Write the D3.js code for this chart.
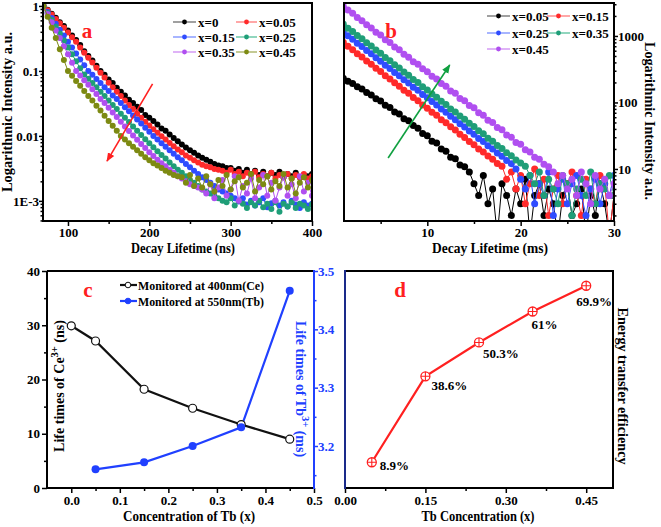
<!DOCTYPE html>
<html>
<head>
<meta charset="utf-8">
<script src="https://cdn.jsdelivr.net/npm/d3@7"></script>
<style>body{margin:0;background:#fff}svg{display:block}</style>
</head>
<body>
<svg id="chart" width="661" height="527"></svg>
<script>
// ---------- data ----------
// panel a: Ce3+ decay (ns), sampled every 5 ns from 70 to 400
const tA = d3.range(70, 401, 5)
const decayA0 = [1,0.87,0.76,0.66,0.56,0.49,0.42,0.35,0.30,0.25,0.20,0.17,0.145,0.12,0.10,0.087,0.074,0.065,0.055,0.048,0.042,0.036,0.032,0.028,0.025,0.021,0.019,0.017,0.015,0.013,0.012,0.0105,0.0093,0.0083,0.0074,0.0066,0.006,0.0055,0.005,0.0046,0.0043,0.004,0.0037,0.0035,0.0034,0.0032,0.0032,0.0029,0.0031,0.0027,0.003,0.0026,0.0029,0.0025,0.0028,0.0024,0.0027,0.0025,0.0028,0.0023,0.0026,0.0024,0.0027,0.0023,0.0025,0.0024,0.0026]
const decayA005 = [1,0.86,0.74,0.63,0.54,0.46,0.39,0.33,0.28,0.23,0.19,0.16,0.135,0.112,0.094,0.079,0.066,0.056,0.048,0.041,0.035,0.03,0.026,0.022,0.019,0.0165,0.0145,0.0127,0.0112,0.0099,0.0088,0.0078,0.0069,0.0062,0.0056,0.005,0.0046,0.0042,0.0039,0.0036,0.0034,0.0033,0.0031,0.003,0.0029,0.0027,0.003,0.0026,0.0028,0.0024,0.0027,0.0025,0.0028,0.0023,0.0026,0.0024,0.0027,0.0022,0.0025,0.0023,0.0026,0.0022,0.0025,0.0023,0.0026,0.0022,0.0024]
const decayA015 = [1,0.81,0.65,0.53,0.43,0.35,0.28,0.23,0.185,0.15,0.122,0.1,0.087,0.075,0.065,0.056,0.049,0.042,0.037,0.032,0.0275,0.024,0.0206,0.0178,0.0155,0.0134,0.0116,0.01,0.0088,0.0077,0.0068,0.006,0.0053,0.0047,0.0042,0.0037,0.0033,0.0029,0.0026,0.0023,0.0021,0.0019,0.0017,0.0015,0.0014,0.0013,0.0012,0.0011,0.00098,0.0011,0.00088,0.001,0.00085,0.00095,0.0011,0.0008,0.00092,0.001,0.00085,0.00095,0.00082,0.001,0.00088,0.00078,0.00095,0.00085,0.0009]
const decayA025 = [1,0.78,0.61,0.48,0.375,0.295,0.23,0.18,0.141,0.11,0.088,0.076,0.065,0.056,0.048,0.041,0.035,0.03,0.026,0.022,0.019,0.0163,0.014,0.012,0.0103,0.0089,0.0077,0.0067,0.0058,0.0051,0.0045,0.0039,0.0034,0.003,0.0027,0.0024,0.0021,0.0019,0.0017,0.0015,0.0014,0.0013,0.0012,0.0011,0.001,0.00095,0.0011,0.00085,0.001,0.0009,0.00078,0.00095,0.00085,0.001,0.0008,0.0009,0.00075,0.00095,0.00068,0.0009,0.00082,0.00095,0.00078,0.0009,0.00085,0.00075,0.00088]
const decayA035 = [1,0.75,0.56,0.42,0.32,0.24,0.18,0.133,0.1,0.085,0.072,0.061,0.052,0.044,0.037,0.032,0.027,0.023,0.0195,0.0165,0.014,0.0119,0.0101,0.0087,0.0075,0.0065,0.0056,0.0049,0.0043,0.0038,0.0034,0.003,0.0027,0.0024,0.0022,0.002,0.0018,0.0017,0.0016,0.0015,0.0013,0.0018,0.0011,0.0016,0.0021,0.0012,0.0015,0.0024,0.001,0.0017,0.0013,0.0022,0.0011,0.0016,0.0025,0.0012,0.0019,0.001,0.0016,0.0023,0.0012,0.0018,0.0011,0.0024,0.0014,0.0019,0.0012]
const decayA045 = [1,0.68,0.46,0.32,0.215,0.147,0.1,0.084,0.07,0.059,0.049,0.041,0.035,0.029,0.0245,0.0205,0.017,0.0143,0.012,0.01,0.0088,0.0077,0.0068,0.006,0.0053,0.0047,0.0042,0.0038,0.0035,0.0032,0.0029,0.0027,0.0025,0.0024,0.0023,0.0019,0.0025,0.0017,0.0022,0.0016,0.0024,0.0018,0.0014,0.0021,0.0017,0.0025,0.0015,0.002,0.0023,0.0016,0.0019,0.0026,0.0014,0.0021,0.0018,0.0024,0.0015,0.002,0.0017,0.0026,0.0016,0.0022,0.0013,0.0019,0.0023,0.0016,0.0021]
const namesA = ["x=0", "x=0.05", "x=0.15", "x=0.25", "x=0.35", "x=0.45"]

// panel b: Tb3+ decay (ms), sampled every 0.5 ms from 1 to 30
const tB = d3.range(1, 30.01, 0.5)
const decayB005 = [230,208,193,172,159,141,130,114,105,91,84,72,67,57,53,45,41,34,31.5,26,24.5,20,18.5,15,14.2,11.5,10.8,9,6,4,8,3,5,1,6,4,2,5,3,7,1,4,6,2,5,3,1,4,6,2,3,5,1,4,2,6,3,1,4]
const decayB015 = [800,700,622,542,483,421,375,327,291,253,226,197,176,152,137,119,106,91.5,82,71,64,55,49.5,43,38.5,33.3,29.8,25.9,23.1,20,18,15.6,14,12.1,11,7,9,5,8,3,6,10,4,7,2,5,8,3,6,9,4,2,7,5,3,8,6,1,4]
const decayB025 = [1150,1005,895,780,695,605,540,470,418,364,325,282,252,220,196,170,152,132,118,103,91.5,79.5,71,62,55,48,42.8,37.2,33.2,28.8,25.8,22.4,20,17.4,15.5,13.4,12,10,7,5,8,3,6,4,9,2,5,7,3,6,8,4,2,5,7,3,6,4,8]
const decayB035 = [1500,1310,1170,1020,910,790,705,615,548,476,425,370,330,287,256,222,199,172,154,134,120,104,93,80,72,62.5,56,48.5,43.5,37.5,33.8,29,26.2,22.5,20.3,17.5,15.8,13.6,12.3,11,8,6,9,4,7,5,3,8,6,2,5,7,4,9,3,6,5,8,4]
const decayB045 = [2800,2450,2190,1900,1700,1470,1320,1140,1030,880,800,680,620,530,480,410,375,320,290,248,226,192,176,149,137,115,106,90,83,70,64,54,50,42,39,32.5,30,25,23.5,19.5,18,15,14,11.8,10.8,9,6,8,5,7,4,9,6,3,8,5,7,4,6]
const namesB = ["x=0.05", "x=0.15", "x=0.25", "x=0.35", "x=0.45"]

// panel c: life times vs Tb concentration
const concCe = [0, 0.05, 0.15, 0.25, 0.35, 0.45]
const lifeCe = [29.9, 27.1, 18.2, 14.7, 11.7, 9.0]
const concTb = [0.05, 0.15, 0.25, 0.35, 0.45]
const lifeTb = [3.16, 3.172, 3.2, 3.232, 3.466]

// panel d: energy transfer efficiency
const effConc = [0.05, 0.15, 0.25, 0.35, 0.45]
const effValues = [8.9, 38.6, 50.3, 61, 69.9]
const effLabels = ["8.9%", "38.6%", "50.3%", "61%", "69.9%"]

// arrows (data coordinates)
const arrowA = [[204, 0.063], [148, 0.0041]]
const arrowB = [[5.8, 14.6], [12.4, 366]]

// ---------- styles ----------
const FONT = "'Liberation Serif','Times New Roman',serif"
const colorsA = ["#000000", "#ff2a2a", "#2f4cff", "#1f9e78", "#b04ff0", "#7d8a12"]
const lightA = ["#808080", "#ff8a8a", "#8a9cff", "#6cc8a8", "#d49af5", "#b0b870"]
const colorsB = colorsA.slice(0, 5)
const lightB = lightA.slice(0, 5)
const BLUE = "#2040ff"

const svg = d3.select("#chart")
svg.append("rect").attr("width", 661).attr("height", 527).attr("fill", "#fff")
const defs = svg.append("defs")

function arrowHead(id, color) {
    defs.append("marker").attr("id", id)
        .attr("viewBox", "0 0 10 10").attr("refX", 9).attr("refY", 5)
        .attr("markerUnits", "userSpaceOnUse")
        .attr("markerWidth", 9).attr("markerHeight", 9)
        .attr("orient", "auto")
        .append("path").attr("d", "M0,1 L10,5 L0,9 z").attr("fill", color)
}
arrowHead("headRed", "#ff2020")
arrowHead("headGreen", "#10a040")

function clip(id, x0, y0, x1, y1) {
    defs.append("clipPath").attr("id", id)
        .append("rect").attr("x", x0).attr("y", y0).attr("width", x1 - x0).attr("height", y1 - y0)
}

function styleAxis(g, color) {
    g.select(".domain").remove()
    g.attr("font-family", FONT).attr("font-size", 13).attr("font-weight", "bold")
    g.selectAll("line").attr("stroke", color || "#000").attr("stroke-width", 1.5)
    g.selectAll("text").attr("fill", color || "#000")
}

function label(x, y, txt, opts) {
    opts = opts || {}
    const t = svg.append("text")
        .attr("transform", `translate(${x},${y}) rotate(${opts.rotate || 0})`)
        .attr("text-anchor", opts.anchor || "middle")
        .attr("font-family", FONT).attr("font-weight", "bold")
        .attr("font-size", opts.size || 14)
        .attr("fill", opts.color || "#000")
        .text(txt)
    if (opts.len) t.attr("textLength", opts.len).attr("lengthAdjust", "spacingAndGlyphs")
    return t
}

const isPow10 = d => Math.abs(Math.log10(d) - Math.round(Math.log10(d))) < 1e-6

// ---------- panel a ----------
const A = {l: 43, r: 312, t: 3, b: 221}
const xA = d3.scaleLinear().domain([69.3, 400]).range([A.l, A.r])
const yA = d3.scaleLog().domain([4.9e-4, 1.11]).range([A.b, A.t])
clip("clipA", A.l, A.t, A.r, A.b)

const seriesA = [decayA0, decayA005, decayA015, decayA025, decayA035, decayA045]
const gA = svg.append("g").attr("clip-path", "url(#clipA)")
const lineA = d3.line().x(d => xA(d[0])).y(d => yA(d[1]))
seriesA.forEach((vals, i) => {
    const pts = tA.map((t, j) => [t, vals[j]])
    gA.append("path").attr("d", lineA(pts)).attr("fill", "none")
        .attr("stroke", colorsA[i]).attr("stroke-width", 1)
    gA.append("g").selectAll("circle").data(pts).join("circle")
        .attr("cx", d => xA(d[0])).attr("cy", d => yA(d[1])).attr("r", 3)
        .attr("fill", colorsA[i])
})

svg.append("g").attr("transform", `translate(0,${A.b})`)
    .call(d3.axisBottom(xA).tickValues([100, 200, 300, 400]).tickSize(5).tickSizeOuter(0).tickPadding(2))
    .call(g => styleAxis(g))
svg.append("g").attr("transform", `translate(0,${A.b})`)
    .call(d3.axisBottom(xA).tickValues([150, 250, 350]).tickSize(3).tickFormat(""))
    .call(g => styleAxis(g))
svg.append("g").attr("transform", `translate(${A.l},0)`)
    .call(d3.axisLeft(yA).tickValues([1, 0.1, 0.01, 0.001]).tickSize(4).tickPadding(0)
        .tickFormat(d => d === 0.001 ? "1E-3" : String(d)))
    .call(g => styleAxis(g))
svg.append("g").attr("transform", `translate(${A.l},0)`)
    .call(d3.axisLeft(yA).tickValues(yA.ticks().filter(d => !isPow10(d))).tickSize(2.5).tickFormat(""))
    .call(g => styleAxis(g))
svg.append("rect").attr("x", A.l).attr("y", A.t).attr("width", A.r - A.l).attr("height", A.b - A.t)
    .attr("fill", "none").attr("stroke", "#000").attr("stroke-width", 2)

svg.append("line")
    .attr("x1", xA(arrowA[0][0])).attr("y1", yA(arrowA[0][1]))
    .attr("x2", xA(arrowA[1][0])).attr("y2", yA(arrowA[1][1]))
    .attr("stroke", "#ff2020").attr("stroke-width", 1.6).attr("marker-end", "url(#headRed)")

// legend a
namesA.forEach((n, i) => {
    const col = i % 2, row = Math.floor(i / 2)
    const x0 = [173, 236][col], x1 = [196, 257][col], y = [22, 37, 52][row]
    svg.append("line").attr("x1", x0).attr("x2", x1).attr("y1", y).attr("y2", y)
        .attr("stroke", lightA[i]).attr("stroke-width", 1.5)
    svg.append("circle").attr("cx", (x0 + x1) / 2).attr("cy", y).attr("r", 2.4).attr("fill", colorsA[i])
    label(x1 + 2, y + 4.5, n, {anchor: "start", size: 13})
})

label(87, 38, "a", {size: 21, color: "#ff2020"})
label(183, 253, "Decay Lifetime (ns)", {size: 14, len: 104})
label(12, 112, "Logarithmic Intensity a.u.", {rotate: -90, size: 14, len: 160})

// ---------- panel b ----------
const B = {l: 344, r: 614, t: 3, b: 221}
const xB = d3.scaleLinear().domain([1.075, 30]).range([B.l, B.r])
const yB = d3.scaleLog().domain([1.65, 3130]).range([B.b, B.t])
clip("clipB", B.l, B.t, B.r, B.b)

const seriesB = [decayB005, decayB015, decayB025, decayB035, decayB045]
const gB = svg.append("g").attr("clip-path", "url(#clipB)")
const lineB = d3.line().x(d => xB(d[0])).y(d => yB(d[1]))
seriesB.forEach((vals, i) => {
    const pts = tB.map((t, j) => [t, vals[j]])
    gB.append("path").attr("d", lineB(pts)).attr("fill", "none")
        .attr("stroke", colorsB[i]).attr("stroke-width", 1)
    gB.append("g").selectAll("circle").data(pts).join("circle")
        .attr("cx", d => xB(d[0])).attr("cy", d => yB(d[1])).attr("r", 3.5)
        .attr("fill", colorsB[i])
})

svg.append("g").attr("transform", `translate(0,${B.b})`)
    .call(d3.axisBottom(xB).tickValues([10, 20, 30]).tickSize(5).tickSizeOuter(0).tickPadding(2))
    .call(g => styleAxis(g))
svg.append("g").attr("transform", `translate(0,${B.b})`)
    .call(d3.axisBottom(xB).tickValues([5, 15, 25]).tickSize(3).tickFormat(""))
    .call(g => styleAxis(g))
svg.append("g").attr("transform", `translate(${B.r},0)`)
    .call(d3.axisRight(yB).tickValues([10, 100, 1000]).tickSize(4).tickPadding(0).tickFormat(d3.format("d")))
    .call(g => styleAxis(g))
svg.append("g").attr("transform", `translate(${B.r},0)`)
    .call(d3.axisRight(yB).tickValues(yB.ticks().filter(d => !isPow10(d))).tickSize(2.5).tickFormat(""))
    .call(g => styleAxis(g))
svg.append("rect").attr("x", B.l).attr("y", B.t).attr("width", B.r - B.l).attr("height", B.b - B.t)
    .attr("fill", "none").attr("stroke", "#000").attr("stroke-width", 2)

svg.append("line")
    .attr("x1", xB(arrowB[0][0])).attr("y1", yB(arrowB[0][1]))
    .attr("x2", xB(arrowB[1][0])).attr("y2", yB(arrowB[1][1]))
    .attr("stroke", "#10a040").attr("stroke-width", 1.6).attr("marker-end", "url(#headGreen)")

namesB.forEach((n, i) => {
    const col = i % 2, row = Math.floor(i / 2)
    const x0 = [487, 547][col], x1 = [510, 570][col], y = [16, 33, 49][row]
    svg.append("line").attr("x1", x0).attr("x2", x1).attr("y1", y).attr("y2", y)
        .attr("stroke", lightB[i]).attr("stroke-width", 1.5)
    svg.append("circle").attr("cx", (x0 + x1) / 2).attr("cy", y).attr("r", 2.4).attr("fill", colorsB[i])
    label(x1 + 2, y + 4.5, n, {anchor: "start", size: 13})
})

label(391, 38, "b", {size: 21, color: "#ff2020"})
label(490, 253, "Decay Lifetime (ms)", {size: 14, len: 116})
label(645, 121, "Logarithmic Intensity a.u.", {rotate: 90, size: 14, len: 158})

// ---------- panel c ----------
const C = {l: 47, r: 314, t: 271, b: 488}
const xC = d3.scaleLinear().domain([-0.05, 0.5]).range([C.l, C.r])
const yC = d3.scaleLinear().domain([0, 40]).range([C.b, C.t])
const yC2 = d3.scaleLinear().domain([3.128, 3.5]).range([C.b, C.t])

svg.append("g").attr("transform", `translate(0,${C.b})`)
    .call(d3.axisBottom(xC).tickValues([0, 0.1, 0.2, 0.3, 0.4, 0.5]).tickSize(5).tickSizeOuter(0)
        .tickPadding(3).tickFormat(d3.format(".1f")))
    .call(g => styleAxis(g))
svg.append("g").attr("transform", `translate(0,${C.b})`)
    .call(d3.axisBottom(xC).tickValues([0.05, 0.15, 0.25, 0.35, 0.45]).tickSize(3).tickFormat(""))
    .call(g => styleAxis(g))
svg.append("g").attr("transform", `translate(${C.l},0)`)
    .call(d3.axisLeft(yC).tickValues([0, 10, 20, 30, 40]).tickSize(5).tickPadding(2))
    .call(g => styleAxis(g))
svg.append("g").attr("transform", `translate(${C.l},0)`)
    .call(d3.axisLeft(yC).tickValues([5, 15, 25, 35]).tickSize(3).tickFormat(""))
    .call(g => styleAxis(g))
svg.append("g").attr("transform", `translate(${C.r},0)`)
    .call(d3.axisRight(yC2).tickValues([3.2, 3.3, 3.4, 3.5]).tickSize(4).tickPadding(0).tickFormat(d3.format(".1f")))
    .call(g => styleAxis(g, BLUE))
svg.append("g").attr("transform", `translate(${C.r},0)`)
    .call(d3.axisRight(yC2).tickValues([3.15, 3.25, 3.35, 3.45]).tickSize(2.5).tickFormat(""))
    .call(g => styleAxis(g, BLUE))

const ptsCe = concCe.map((c, i) => [c, lifeCe[i]])
const ptsTb = concTb.map((c, i) => [c, lifeTb[i]])
svg.append("path").attr("d", d3.line().x(d => xC(d[0])).y(d => yC(d[1]))(ptsCe))
    .attr("fill", "none").attr("stroke", "#111").attr("stroke-width", 2.2)
svg.append("path").attr("d", d3.line().x(d => xC(d[0])).y(d => yC2(d[1]))(ptsTb))
    .attr("fill", "none").attr("stroke", BLUE).attr("stroke-width", 2.2)
svg.append("g").selectAll("circle").data(ptsCe).join("circle")
    .attr("cx", d => xC(d[0])).attr("cy", d => yC(d[1])).attr("r", 4)
    .attr("fill", "#fff").attr("stroke", "#111").attr("stroke-width", 1.2)
svg.append("g").selectAll("circle").data(ptsTb).join("circle")
    .attr("cx", d => xC(d[0])).attr("cy", d => yC2(d[1])).attr("r", 4)
    .attr("fill", BLUE)

svg.append("path").attr("d", `M${C.l},${C.t}V${C.b}H${C.r}M${C.l},${C.t}H${C.r}`)
    .attr("fill", "none").attr("stroke", "#000").attr("stroke-width", 2)
svg.append("line").attr("x1", C.r).attr("x2", C.r).attr("y1", C.t - 1).attr("y2", C.b + 1)
    .attr("stroke", BLUE).attr("stroke-width", 2)

// legend c
const legC = [["Monitored at 400nm(Ce)", "#111", "#fff"], ["Monitored at 550nm(Tb)", BLUE, BLUE]]
legC.forEach((l, i) => {
    const y = 285 + i * 16
    svg.append("line").attr("x1", 120).attr("x2", 137).attr("y1", y).attr("y2", y)
        .attr("stroke", l[1]).attr("stroke-width", 2.2)
    svg.append("circle").attr("cx", 128).attr("cy", y).attr("r", 2.8)
        .attr("fill", l[2]).attr("stroke", l[1]).attr("stroke-width", 1)
    label(138, y + 4.5, l[0], {anchor: "start", size: 13.5, len: 126})
})

label(88, 297, "c", {size: 21, color: "#ff2020"})
label(189, 521, "Concentration of Tb (x)", {size: 14, len: 132})

const ceTitle = svg.append("text").attr("transform", "translate(64,386) rotate(-90)")
    .attr("text-anchor", "middle").attr("font-family", FONT).attr("font-weight", "bold").attr("font-size", 14)
ceTitle.append("tspan").text("Life times of Ce")
ceTitle.append("tspan").attr("dy", -6).attr("font-size", 10.5).text("3+")
ceTitle.append("tspan").attr("dy", 6).text(" (ns)")

const tbTitle = svg.append("text").attr("transform", "translate(296,389) rotate(90)")
    .attr("text-anchor", "middle").attr("font-family", FONT).attr("font-weight", "bold").attr("font-size", 14)
    .attr("fill", BLUE)
tbTitle.append("tspan").text("Life times of Tb")
tbTitle.append("tspan").attr("dy", -6).attr("font-size", 10.5).text("3+")
tbTitle.append("tspan").attr("dy", 6).text(" (ms)")

// ---------- panel d ----------
const D = {l: 345, r: 613, t: 271, b: 488}
const xD = d3.scaleLinear().domain([0, 0.5]).range([D.l, D.r])
const yD = d3.scaleLinear().domain([0, 75]).range([D.b, D.t])

svg.append("g").attr("transform", `translate(0,${D.b})`)
    .call(d3.axisBottom(xD).tickValues([0, 0.15, 0.3, 0.45]).tickSize(5).tickSizeOuter(0)
        .tickPadding(3).tickFormat(d3.format(".2f")))
    .call(g => styleAxis(g))
svg.append("g").attr("transform", `translate(0,${D.b})`)
    .call(d3.axisBottom(xD).tickValues([0.075, 0.225, 0.375]).tickSize(3).tickFormat(""))
    .call(g => styleAxis(g))

const ptsEff = effConc.map((c, i) => [c, effValues[i]])
svg.append("path").attr("d", d3.line().x(d => xD(d[0])).y(d => yD(d[1]))(ptsEff))
    .attr("fill", "none").attr("stroke", "#ff2020").attr("stroke-width", 2.2)
const mk = svg.append("g").selectAll("g").data(ptsEff).join("g")
    .attr("transform", d => `translate(${xD(d[0])},${yD(d[1])})`)
mk.append("circle").attr("r", 4.5).attr("fill", "#fff").attr("stroke", "#ff2020").attr("stroke-width", 1.3)
mk.append("path").attr("d", "M-4.5,0H4.5M0,-4.5V4.5").attr("stroke", "#ff2020").attr("stroke-width", 1.1)

const effOffsets = [[8, 8], [6, 14], [4, 16], [-1, 17], [-10, 20]]
ptsEff.forEach((d, i) => {
    label(xD(d[0]) + effOffsets[i][0], yD(d[1]) + effOffsets[i][1], effLabels[i], {anchor: "start", size: 13})
})

svg.append("path").attr("d", `M${D.l},${D.t}H${D.r}V${D.b}H${D.l}`)
    .attr("fill", "none").attr("stroke", "#000").attr("stroke-width", 2)
svg.append("line").attr("x1", D.l).attr("x2", D.l).attr("y1", D.t - 1).attr("y2", D.b + 1)
    .attr("stroke", "#1a2a8a").attr("stroke-width", 2)

label(400, 297, "d", {size: 21, color: "#ff2020"})
label(478, 521, "Tb Concentration (x)", {size: 14, len: 113})
label(618, 386, "Energy transfer efficiency", {rotate: 90, size: 14, len: 157})
</script>
</body>
</html>
